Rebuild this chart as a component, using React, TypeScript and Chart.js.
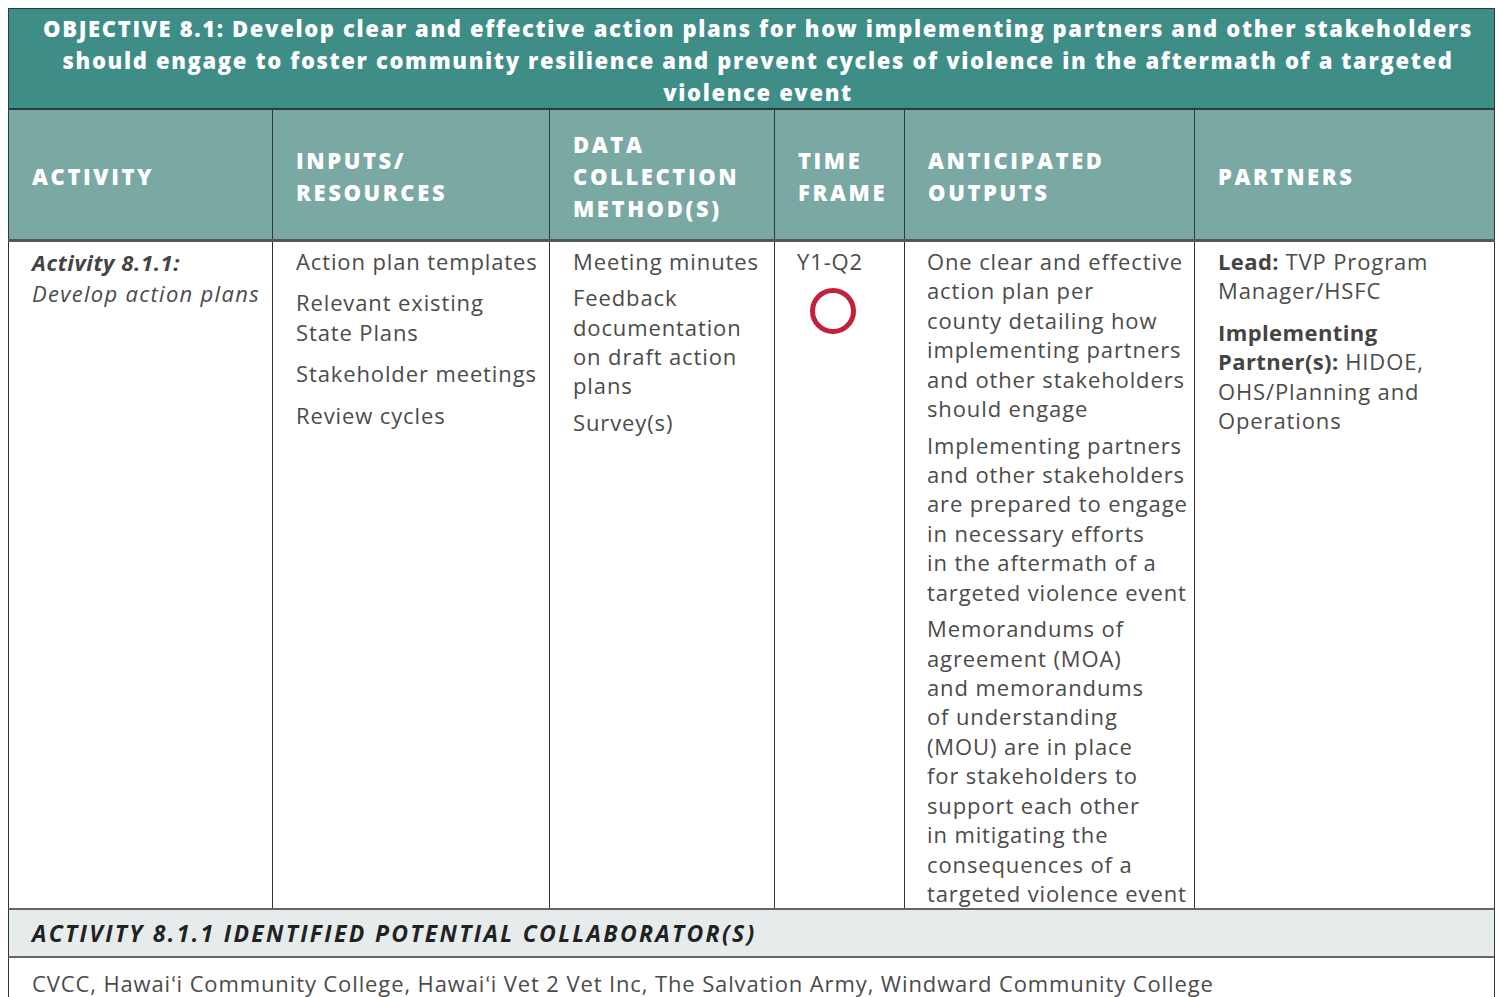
import React, { useEffect, useRef } from "react";
import { Chart, registerables } from "chart.js";

Chart.register(...registerables);

// ---------- data ----------
const objectiveLines = [
  "OBJECTIVE 8.1: Develop clear and effective action plans for how implementing partners and other stakeholders",
  "should engage to foster community resilience and prevent cycles of violence in the aftermath of a targeted",
  "violence event",
];
const columnHeaders = [
  ["ACTIVITY"],
  ["INPUTS/", "RESOURCES"],
  ["DATA", "COLLECTION", "METHOD(S)"],
  ["TIME", "FRAME"],
  ["ANTICIPATED", "OUTPUTS"],
  ["PARTNERS"],
];
const activityId = "Activity 8.1.1:";
const activityName = "Develop action plans";
const inputs = [["Action plan templates"], ["Relevant existing", "State Plans"], ["Stakeholder meetings"], ["Review cycles"]];
const dataMethods = [["Meeting minutes"], ["Feedback", "documentation", "on draft action", "plans"], ["Survey(s)"]];
const timeFrames = ["Y1-Q2"];
const outputs = [
  ["One clear and effective", "action plan per", "county detailing how", "implementing partners", "and other stakeholders", "should engage"],
  ["Implementing partners", "and other stakeholders", "are prepared to engage", "in necessary efforts", "in the aftermath of a", "targeted violence event"],
  ["Memorandums of", "agreement (MOA)", "and memorandums", "of understanding", "(MOU) are in place", "for stakeholders to", "support each other", "in mitigating the", "consequences of a", "targeted violence event"],
];
const partners = [
  { label: "Lead:", lines: [" TVP Program", "Manager/HSFC"] },
  { label: "Implementing\nPartner(s):", lines: [" HIDOE,", "OHS/Planning and", "Operations"] },
];
const collaboratorTitle = "ACTIVITY 8.1.1 IDENTIFIED POTENTIAL COLLABORATOR(S)";
const collaborators = "CVCC, Hawaiʻi Community College, Hawaiʻi Vet 2 Vet Inc, The Salvation Army, Windward Community College";

// ---------- layout ----------
const colEdges = [8, 272, 549, 774, 904, 1194, 1495];
const FONT = "'Open Sans', Lato, sans-serif";
const TEXT = "#4b4b4b";
const LH = 29.4;
const BODY_SIZE = 22;
const BODY_LS = 0.88;

function Marker() {
  const ref = useRef<HTMLCanvasElement>(null);
  useEffect(() => {
    if (!ref.current) return;
    const chart = new Chart(ref.current, {
      type: "scatter",
      data: {
        datasets: [
          {
            data: timeFrames.map((t) => ({ x: t, y: activityId })) as any,
            pointStyle: "circle",
            pointRadius: 20.5,
            pointHoverRadius: 20.5,
            borderWidth: 5,
            borderColor: "#c51f3a",
            backgroundColor: "rgba(0,0,0,0)",
            clip: false as any,
          },
        ],
      },
      options: {
        animation: false,
        responsive: false,
        maintainAspectRatio: false,
        events: [],
        layout: { padding: 0 },
        plugins: { legend: { display: false }, tooltip: { enabled: false } },
        scales: {
          x: { type: "category", labels: timeFrames, display: false, offset: true },
          y: { type: "category", labels: [activityId], display: false, offset: true },
        },
      },
    });
    return () => chart.destroy();
  }, []);
  return (
    <canvas
      ref={ref}
      width={80}
      height={60}
      style={{ position: "absolute", left: 793, top: 281, width: 80, height: 60 }}
    />
  );
}

const bodyStyle: React.CSSProperties = {
  position: "absolute",
  whiteSpace: "nowrap",
  color: TEXT,
  fontSize: BODY_SIZE,
  letterSpacing: BODY_LS,
  lineHeight: LH + "px",
};

function Paragraphs({ paras, gap, left, top }: { paras: string[][]; gap: number; left: number; top: number }) {
  return (
    <div style={{ ...bodyStyle, left, top }}>
      {paras.map((p, i) => (
        <div key={i} style={{ marginTop: i === 0 ? 0 : gap }}>
          {p.map((l, j) => (
            <div key={j}>{l}</div>
          ))}
        </div>
      ))}
    </div>
  );
}

export default function App() {
  const headerTop = 8;
  const headerBottom = 110;
  const colHeadBottom = 240;
  const bodyBottom = 909;
  const grayBottom = 957;
  const W = colEdges[6] - colEdges[0];
  const colHeadCenter = 176;
  const boldLabel: React.CSSProperties = { fontWeight: 700, color: "#444", letterSpacing: 0.4 };
  return (
    <div style={{ position: "absolute", left: 0, top: 0, width: 1501, height: 997, overflow: "hidden", background: "#fff", fontFamily: FONT }}>
      {/* objective header */}
      <div
        style={{
          position: "absolute",
          left: colEdges[0],
          top: headerTop,
          width: W,
          height: headerBottom - headerTop,
          background: "#3e8d86",
          boxSizing: "border-box",
          border: "1.5px solid #2d3b39",
          borderBottom: "2px solid #2d3b39",
        }}
      />
      <div
        style={{
          position: "absolute",
          left: 758 - 760,
          top: 12,
          width: 1520,
          textAlign: "center",
          color: "#fff",
          fontWeight: 800,
          fontSize: 22,
          letterSpacing: 1.64,
          lineHeight: "32px",
          whiteSpace: "nowrap",
        }}
      >
        {objectiveLines.map((l, i) => (
          <div key={i}>{l}</div>
        ))}
      </div>

      {/* column header row */}
      {columnHeaders.map((h, i) => {
        const left = colEdges[i];
        const right = colEdges[i + 1];
        return (
          <div
            key={i}
            style={{
              position: "absolute",
              left,
              top: headerBottom,
              width: right - left,
              height: colHeadBottom - headerBottom,
              background: "#7aa8a3",
              boxSizing: "border-box",
              borderLeft: "1.5px solid #2d3b39",
              borderRight: i === 5 ? "1.5px solid #2d3b39" : "none",
            }}
          >
            <div
              style={{
                position: "absolute",
                left: 23,
                top: colHeadCenter - headerBottom - (h.length * 32) / 2,
                color: "#fff",
                fontWeight: 800,
                fontSize: 22,
                letterSpacing: 2.6,
                lineHeight: "32px",
                whiteSpace: "nowrap",
              }}
            >
              {h.map((l, j) => (
                <div key={j}>{l}</div>
              ))}
            </div>
          </div>
        );
      })}
      <div style={{ position: "absolute", left: colEdges[0], top: colHeadBottom - 1, width: W, height: 2.5, background: "#505a58" }} />

      {/* body cells borders */}
      {colEdges.slice(0, 6).map((l, i) => (
        <div
          key={i}
          style={{
            position: "absolute",
            left: l,
            top: colHeadBottom + 1.5,
            width: colEdges[i + 1] - l,
            height: bodyBottom - colHeadBottom - 1.5,
            boxSizing: "border-box",
            borderLeft: "1.5px solid #333",
            borderRight: i === 5 ? "1.5px solid #333" : "none",
          }}
        />
      ))}

      {/* activity */}
      <div style={{ ...bodyStyle, left: 32, top: 246.5, lineHeight: "31.5px", fontStyle: "italic", letterSpacing: 1.3 }}>
        <div style={{ fontWeight: 700, color: "#444", letterSpacing: 0.6 }}>{activityId}</div>
        <div>{activityName}</div>
      </div>

      <Paragraphs paras={inputs} gap={12} left={296} top={247} />
      <Paragraphs paras={dataMethods} gap={6.8} left={573} top={247} />
      <div style={{ ...bodyStyle, left: 797, top: 247 }}>
        {timeFrames.map((t, i) => (
          <div key={i}>{t}</div>
        ))}
      </div>
      <Marker />
      <Paragraphs paras={outputs} gap={7.2} left={927} top={247} />

      {/* partners */}
      <div style={{ ...bodyStyle, left: 1218, top: 247 }}>
        {partners.map((p, i) => {
          const labelLines = p.label.split("\n");
          return (
            <div key={i} style={{ marginTop: i === 0 ? 0 : 12 }}>
              {labelLines.slice(0, -1).map((l, j) => (
                <div key={"l" + j} style={boldLabel}>{l}</div>
              ))}
              <div>
                <span style={boldLabel}>{labelLines[labelLines.length - 1]}</span>
                {p.lines[0]}
              </div>
              {p.lines.slice(1).map((l, j) => (
                <div key={j}>{l}</div>
              ))}
            </div>
          );
        })}
      </div>

      {/* collaborator title row */}
      <div
        style={{
          position: "absolute",
          left: colEdges[0],
          top: bodyBottom - 1,
          width: W,
          height: grayBottom - bodyBottom + 2,
          background: "#e6ecec",
          boxSizing: "border-box",
          borderTop: "2px solid #666",
          borderBottom: "2px solid #666",
          borderLeft: "1.5px solid #333",
          borderRight: "1.5px solid #333",
        }}
      />
      <div
        style={{
          position: "absolute",
          left: 32,
          top: 917,
          color: "#222",
          fontWeight: 700,
          fontStyle: "italic",
          fontSize: 23,
          letterSpacing: 2.3,
          lineHeight: "32px",
          whiteSpace: "nowrap",
        }}
      >
        {collaboratorTitle}
      </div>

      {/* collaborators row */}
      <div
        style={{
          position: "absolute",
          left: colEdges[0],
          top: grayBottom + 1,
          width: W,
          height: 60,
          boxSizing: "border-box",
          borderLeft: "1.5px solid #333",
          borderRight: "1.5px solid #333",
        }}
      />
      <div style={{ ...bodyStyle, left: 32, top: 968, lineHeight: "30px" }}>
        {collaborators}
      </div>
    </div>
  );
}
